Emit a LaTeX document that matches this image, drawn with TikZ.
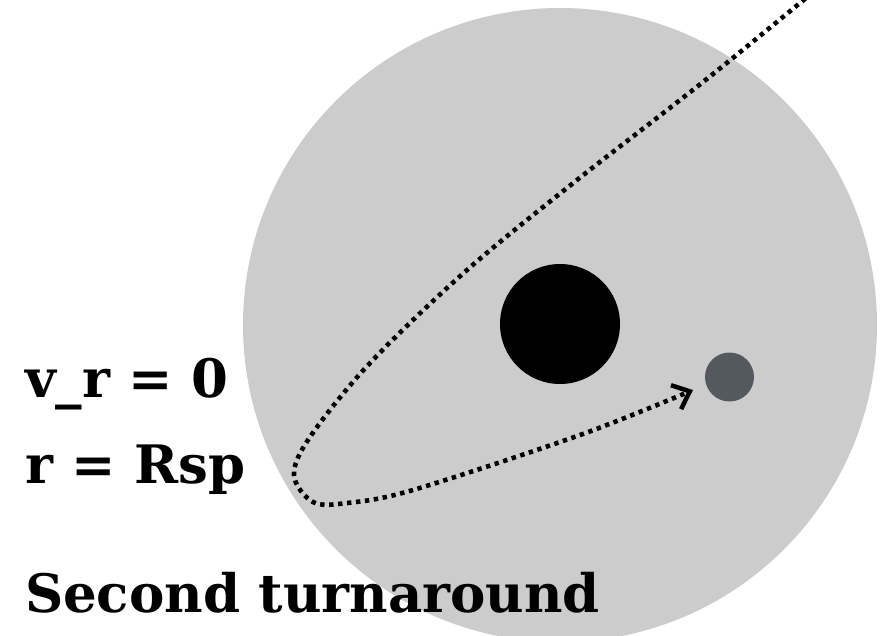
\documentclass[tikz,border=0pt]{standalone}
\usepackage{fontspec}
\setmainfont{DejaVu Serif}
\usepackage{tikz}
\usetikzlibrary{arrows.meta}
\definecolor{halogray}{HTML}{CCCCCC}
\definecolor{subgray}{HTML}{54585F}

\begin{document}
\begin{tikzpicture}[
    x=1pt, y=-1pt,
    every node/.style={inner sep=0pt, outer sep=0pt},
    ball/.style={circle, draw=none},
    lbl/.style={anchor=base west, font=\fontsize{53}{60}\selectfont\bfseries},
    orbit/.style={line width=4.6pt, dash pattern=on 4.4pt off 4.6pt,
                  -{Straight Barb[length=15pt, width=26pt, line width=4.5pt]}},
]
    \useasboundingbox (0,0) rectangle (888,635);

    % Halo and the two bodies.
    \node[ball, fill=halogray, minimum size=634pt] (halo) at (560,325) {};
    \node[ball, fill=black, minimum size=120pt] (host) at (560,324) {};
    \node[ball, fill=subgray, minimum size=49pt] (sub) at (729.5,377) {};

    % Labels.
    \node[lbl] (vr)   at (25,397) {v\_r = 0};
    \node[lbl] (rsp)  at (25,483) {r = Rsp};
    \node[lbl] (turn) at (25,612) {Second turnaround};

    % Infall path.
    \coordinate (tip) at (693,390);
    \draw[orbit] plot[smooth, tension=0.55] coordinates {
        (840,-30) (708,78) (577,180) (467,270) (370,363) (310,437)
        (294,475) (313,502) (347,503) (413,490) (580,435) (tip)};
\end{tikzpicture}
\end{document}
